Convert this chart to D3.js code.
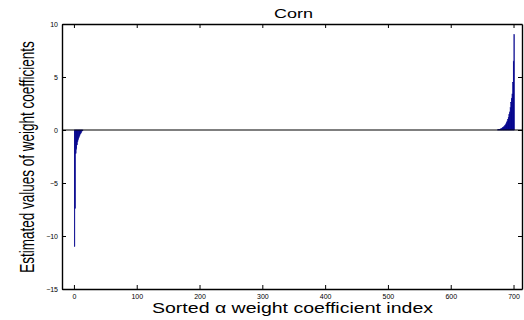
<!DOCTYPE html>
<html>
<head>
<meta charset="utf-8">
<script src="https://cdn.jsdelivr.net/npm/d3@7"></script>
<style>
  html, body { margin: 0; padding: 0; background: #fff; }
  svg { display: block; }
  text { font-family: "Liberation Sans", Arial, sans-serif; fill: #000; }
</style>
</head>
<body>
<svg id="chart" width="524" height="320"></svg>
<script>
// Sorted alpha weight coefficients (Corn): strongly negative head, flat middle, positive tail
const coefficientCount = 701;
const negativeHead = [-11.0, -7.4, -2.2, -1.8, -1.4, -1.1, -0.9, -0.7, -0.55, -0.4, -0.3, -0.2, -0.1, -0.05];
const positiveTail = [0.02, 0.03, 0.04, 0.06, 0.08, 0.11, 0.14, 0.18, 0.22, 0.27, 0.33, 0.4, 0.47,
                      0.57, 0.7, 0.85, 1.0, 1.2, 1.45, 1.7, 2.1, 2.6, 3.0, 3.4, 4.5, 6.5, 9.0];
const xTicks = [0, 100, 200, 300, 400, 500, 600, 700];
const yTicks = [-15, -10, -5, 0, 5, 10];
const chartTitle = "Corn";
const xTitle = "Sorted \u03b1 weight coefficient index";
const yTitle = "Estimated values of weight coefficients";

// Build the full sorted series (index starts at 1)
const middleCount = coefficientCount - negativeHead.length - positiveTail.length;
const values = negativeHead.concat(new Array(middleCount).fill(0), positiveTail);
const series = values.map((v, i) => ({ index: i + 1, value: v }));

const svg = d3.select("#chart");
const plot = { left: 62, right: 522, top: 24, bottom: 289 };

const x = d3.scaleLinear().domain([-19, 713.5]).range([plot.left, plot.right]);
const y = d3.scaleLinear().domain([-15, 10]).range([plot.bottom, plot.top]);

const barColor = "#00008c";
const w = x(1) - x(0);

// Bars
svg.append("g")
  .selectAll("rect")
  .data(series.filter(d => d.value !== 0))
  .join("rect")
  .attr("x", d => x(d.index) - w / 2)
  .attr("width", w)
  .attr("y", d => y(Math.max(0, d.value)))
  .attr("height", d => Math.abs(y(d.value) - y(0)))
  .attr("fill", barColor)
  .attr("stroke", barColor)
  .attr("stroke-width", 0.5);

// Baseline at zero
svg.append("line")
  .attr("x1", plot.left).attr("x2", plot.right)
  .attr("y1", y(0)).attr("y2", y(0))
  .attr("stroke", "#000").attr("stroke-width", 1.2);

// Axes with inward ticks on all four sides
const fmt = d => d < 0 ? "\u2212" + Math.abs(d) : String(d);
const tickLen = 4;

const bottomAxis = d3.axisBottom(x).tickValues(xTicks).tickSizeInner(-tickLen).tickSizeOuter(0).tickPadding(5).tickFormat(fmt);
const topAxis = d3.axisTop(x).tickValues(xTicks).tickSizeInner(-tickLen).tickSizeOuter(0).tickFormat("");
const leftAxis = d3.axisLeft(y).tickValues(yTicks).tickSizeInner(-tickLen).tickSizeOuter(0).tickPadding(4).tickFormat(fmt);
const rightAxis = d3.axisRight(y).tickValues(yTicks).tickSizeInner(-tickLen).tickSizeOuter(0).tickFormat("");

function styleAxis(g) {
  g.select(".domain").attr("stroke", "#000").attr("stroke-width", 1.4);
  g.selectAll(".tick line").attr("stroke", "#000").attr("stroke-width", 1);
  g.selectAll(".tick text").attr("font-size", 7).attr("font-family", "DejaVu Sans, sans-serif").attr("fill", "#000");
}

svg.append("g").attr("transform", `translate(0,${plot.bottom})`).call(bottomAxis).call(styleAxis);
svg.append("g").attr("transform", `translate(0,${plot.top})`).call(topAxis).call(styleAxis);
svg.append("g").attr("transform", `translate(${plot.left},0)`).call(leftAxis).call(styleAxis);
svg.append("g").attr("transform", `translate(${plot.right},0)`).call(rightAxis).call(styleAxis);

// Titles (text widened horizontally to fit their spans)
svg.append("text")
  .attr("x", 293.5).attr("y", 17.5)
  .attr("text-anchor", "middle").attr("font-size", 12.5)
  .attr("textLength", 39).attr("lengthAdjust", "spacingAndGlyphs")
  .text(chartTitle);

svg.append("text")
  .attr("x", 292.5).attr("y", 312.5)
  .attr("text-anchor", "middle").attr("font-size", 15.5)
  .attr("textLength", 281).attr("lengthAdjust", "spacingAndGlyphs")
  .text(xTitle);

// Vertical label: slightly narrowed along the text, widened across it
svg.append("text")
  .attr("transform", `translate(34,157) rotate(-90) scale(0.9,1.3)`)
  .attr("text-anchor", "middle").attr("font-size", 15)
  .text(yTitle);
</script>
</body>
</html>
